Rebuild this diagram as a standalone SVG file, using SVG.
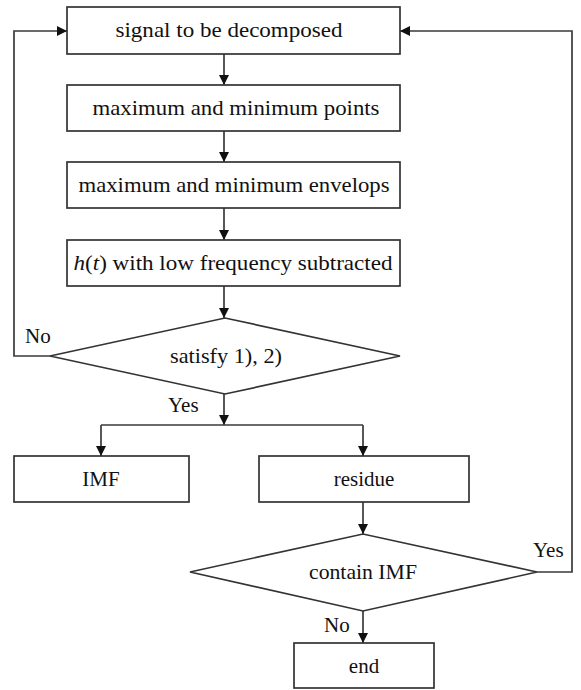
<svg xmlns="http://www.w3.org/2000/svg" width="581" height="690" viewBox="0 0 581 690">
<style>
.box{fill:#fff;stroke:#333;stroke-width:1.7}
.ln{fill:none;stroke:#3a3a3a;stroke-width:1.7}
text{font-family:'Liberation Serif','Times New Roman',serif;font-size:21px;fill:#111}
.c{text-anchor:middle}
</style>
<defs>
<marker id="ah" viewBox="0 0 10 10" refX="10" refY="5" markerWidth="10" markerHeight="10" markerUnits="userSpaceOnUse" orient="auto">
<path d="M0,0 L10,5 L0,10 Z" fill="#111"/>
</marker>
</defs>
<rect width="581" height="690" fill="#fff"/>
<g id="connectors">
<line class="ln" x1="224" y1="54" x2="224" y2="85" marker-end="url(#ah)"/>
<line class="ln" x1="224" y1="131" x2="224" y2="162" marker-end="url(#ah)"/>
<line class="ln" x1="224" y1="208" x2="224" y2="240" marker-end="url(#ah)"/>
<line class="ln" x1="224" y1="286" x2="224" y2="318" marker-end="url(#ah)"/>
<polyline class="ln" points="50,356 14,356 14,31 67,31" marker-end="url(#ah)"/>
<line class="ln" x1="224" y1="394" x2="224" y2="425" marker-end="url(#ah)"/>
<line class="ln" x1="101" y1="425" x2="363" y2="425"/>
<line class="ln" x1="101" y1="425" x2="101" y2="456" marker-end="url(#ah)"/>
<line class="ln" x1="363" y1="425" x2="363" y2="456" marker-end="url(#ah)"/>
<line class="ln" x1="363" y1="502" x2="363" y2="534" marker-end="url(#ah)"/>
<polyline class="ln" points="537,572 572,572 572,31 400,31" marker-end="url(#ah)"/>
<line class="ln" x1="363" y1="611" x2="363" y2="643" marker-end="url(#ah)"/>
<text x="25" y="343">No</text>
<text x="168" y="412">Yes</text>
<text x="533" y="557">Yes</text>
<text x="324" y="632">No</text>
</g>
<g id="n1"><rect class="box" x="67" y="7" width="333" height="47"/><text class="c" x="229" y="37" textLength="227" lengthAdjust="spacingAndGlyphs">signal to be decomposed</text></g>
<g id="n2"><rect class="box" x="67" y="85" width="333" height="46"/><text class="c" x="236" y="115" textLength="287" lengthAdjust="spacingAndGlyphs">maximum and minimum points</text></g>
<g id="n3"><rect class="box" x="67" y="162" width="333" height="46"/><text class="c" x="234" y="192" textLength="311" lengthAdjust="spacingAndGlyphs">maximum and minimum envelops</text></g>
<g id="n4"><rect class="box" x="67" y="240" width="333" height="46"/><text class="c" x="233" y="270" textLength="319" lengthAdjust="spacingAndGlyphs"><tspan font-style="italic">h</tspan>(<tspan font-style="italic">t</tspan>) with low frequency subtracted</text></g>
<g id="d1"><polygon class="box" points="50,356 225,318 400,356 225,394"/><text class="c" x="226" y="363" textLength="112" lengthAdjust="spacingAndGlyphs">satisfy 1), 2)</text></g>
<g id="n5"><rect class="box" x="14" y="456" width="175" height="46"/><text class="c" x="101" y="486">IMF</text></g>
<g id="n6"><rect class="box" x="259" y="456" width="210" height="46"/><text class="c" x="364" y="486">residue</text></g>
<g id="d2"><polygon class="box" points="190,572 363,534 537,572 363,611"/><text class="c" x="363" y="579" textLength="108" lengthAdjust="spacingAndGlyphs">contain IMF</text></g>
<g id="n7"><rect class="box" x="294" y="643" width="140" height="45"/><text class="c" x="364" y="673">end</text></g>
</svg>
